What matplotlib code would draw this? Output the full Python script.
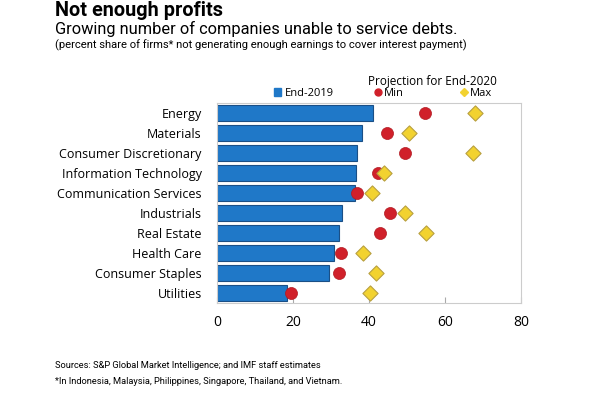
import matplotlib
matplotlib.use("Agg")
import matplotlib.pyplot as plt
from matplotlib.lines import Line2D
from matplotlib.patches import Patch
import numpy as np

sectors = ["Energy", "Materials", "Consumer Discretionary", "Information Technology",
           "Communication Services", "Industrials", "Real Estate", "Health Care",
           "Consumer Staples", "Utilities"]
end_2019 = [41.0, 38.2, 36.9, 36.6, 36.3, 32.9, 32.2, 30.9, 29.5, 18.5]
proj_min = [54.7, 44.7, 49.6, 42.3, 36.8, 45.4, 42.9, 32.7, 32.0, 19.5]
proj_max = [68.0, 50.6, 67.4, 43.9, 40.9, 49.6, 54.9, 38.3, 41.8, 40.3]
xticks = [0, 20, 40, 60, 80]

blue = "#1f78c8"
red = "#d0202a"
yellow = "#f2d230"

W, H = 590, 398
fig = plt.figure(figsize=(W / 100, H / 100), dpi=100)
ax = fig.add_axes([217 / W, 1 - 303 / H, (521 - 217) / W, (303 - 103) / H])

y = np.arange(len(sectors))
ax.barh(y, end_2019, height=0.8, color=blue, edgecolor="#1a4f86", linewidth=0.8, zorder=2)
ax.scatter(proj_min, y, s=75, color=red, edgecolor="#b01a22", linewidth=0.5, zorder=3)
ax.scatter(proj_max, y, s=60, marker="D", color=yellow, edgecolor="#b8a040", linewidth=0.8, zorder=4)

ax.set_xlim(0, 80)
ax.set_ylim(len(sectors) - 0.5, -0.5)
ax.set_yticks(y)
ax.set_yticklabels(sectors, fontsize=9, family="Open Sans")
ax.set_xticks(xticks)
ax.set_xticklabels([str(t) for t in xticks], fontsize=10, family="Open Sans")
ax.tick_params(axis="y", length=0, pad=11)
ax.tick_params(axis="x", direction="in", length=4, color="#aaaaaa", pad=9)
for s in ax.spines.values():
    s.set_color("#cccccc")
    s.set_linewidth(0.8)

# titles
fig.text(55 / W, 1 - 11 / H, "Not enough profits", fontsize=14.3, fontweight="bold",
         family="Roboto", va="center")
fig.text(55 / W, 1 - 29 / H, "Growing number of companies unable to service debts.",
         fontsize=11.8, family="Roboto", va="center")
fig.text(55 / W, 1 - 45 / H,
         "(percent share of firms* not generating enough earnings to cover interest payment)",
         fontsize=8.1, family="Roboto", va="center")

# legend
fig.text(432 / W, 1 - 82 / H, "Projection for End-2020", fontsize=8.5,
         family="Open Sans", ha="center", va="center")
fig.legend(handles=[Patch(color=blue, label="End-2019")],
           loc="center left", bbox_to_anchor=(268 / W, 1 - 93 / H),
           frameon=False, handlelength=0.7, handleheight=0.7,
           handletextpad=0.3, borderpad=0, prop={"family": "Open Sans", "size": 8})
handles = [Line2D([], [], marker="o", color=red, ls="", markersize=5, label="Min"),
           Line2D([], [], marker="D", color=yellow, ls="", markersize=4, label="Max")]
fig.legend(handles=handles, loc="center left", bbox_to_anchor=(369 / W, 1 - 93 / H),
           ncol=2, frameon=False, handlelength=0.6, handletextpad=0.2,
           columnspacing=5.2, borderpad=0, prop={"family": "Open Sans", "size": 8})

# footer
fig.text(55 / W, 1 - 366 / H, "Sources: S&P Global Market Intelligence; and IMF staff estimates",
         fontsize=6.7, family="Roboto", va="center")
fig.text(55 / W, 1 - 381 / H,
         "*In Indonesia, Malaysia, Philippines, Singapore, Thailand, and Vietnam.",
         fontsize=6.7, family="Roboto", va="center")

fig.savefig("out.png", dpi=100)
